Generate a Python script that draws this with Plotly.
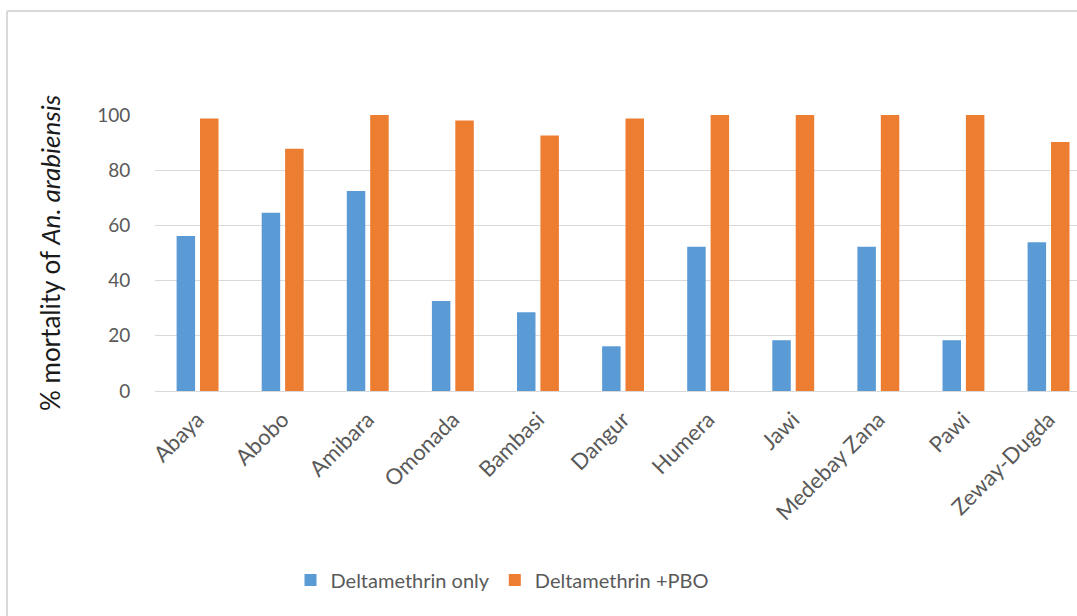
import plotly.graph_objects as go

# Study sites and % mortality for each exposure
sites = ["Abaya", "Abobo", "Amibara", "Omonada", "Bambasi", "Dangur",
         "Humera", "Jawi", "Medebay Zana", "Pawi", "Zeway-Dugda"]
delta_only = [56.2, 64.6, 72.5, 32.6, 28.5, 16.2, 52.3, 18.4, 52.3, 18.4, 53.9]
delta_pbo = [98.7, 87.8, 100, 98.0, 92.6, 98.7, 100, 100, 100, 100, 90.2]
y_ticks = [0, 20, 40, 60, 80, 100]

W, H = 1077, 616
L, R, T, B = 155, 0, 115, 225
plot_w = W - L - R
plot_h = H - T - B

FONT = "Lato, 'Open Sans', sans-serif"
GREY = "#595959"

fig = go.Figure()
fig.add_trace(go.Bar(x=list(range(len(sites))), y=delta_only, name="Deltamethrin only",
                     marker=dict(color="#5b9bd5", line=dict(width=0))))
fig.add_trace(go.Bar(x=list(range(len(sites))), y=delta_pbo, name="Deltamethrin +PBO",
                     marker=dict(color="#ed7d31", line=dict(width=0))))

cat_px = 85.1
fig.update_layout(
    width=W, height=H,
    margin=dict(l=L, r=R, t=T, b=B, pad=0),
    paper_bgcolor="white", plot_bgcolor="white",
    barmode="group", bargap=0.45, bargroupgap=0.21,
    font=dict(family=FONT, color=GREY),
    showlegend=True,
    legend=dict(orientation="h", x=(502 - L) / plot_w, xanchor="center",
                y=(T + plot_h - 580) / plot_h, yanchor="middle",
                font=dict(size=20, color=GREY), itemwidth=30,
                traceorder="normal", bgcolor="rgba(0,0,0,0)"),
    xaxis=dict(range=[-0.5, -0.5 + plot_w / cat_px], tickmode="array",
               tickvals=list(range(len(sites))), ticktext=sites, tickangle=-45,
               tickfont=dict(size=22, color=GREY), showgrid=False, zeroline=False,
               showline=False, ticks="outside", ticklen=6, tickcolor="rgba(0,0,0,0)"),
    yaxis=dict(range=[0, 100], tickvals=y_ticks, tickfont=dict(size=19, color=GREY),
               showgrid=True, gridcolor="#d9d9d9", gridwidth=1.3, zeroline=True,
               zerolinecolor="#d9d9d9", zerolinewidth=1.3, showline=False,
               ticks="outside", ticklen=20, tickcolor="rgba(0,0,0,0)"),
)

# Axis title with the species name in italics
fig.add_annotation(text="% mortality of <i>An. arabiensis</i>", textangle=-90,
                   xref="paper", yref="paper", x=(50 - L) / plot_w, y=0.5,
                   xanchor="center", yanchor="middle", showarrow=False,
                   font=dict(family=FONT, size=26, color="#1a1a1a"))

# Chart frame (left and top edges)
fx = (7 - L) / plot_w
fy = (T + plot_h - 11) / plot_h
fig.add_shape(type="line", xref="paper", yref="paper", x0=fx, x1=fx, y0=fy, y1=-2,
              line=dict(color="#d9d9d9", width=2))
fig.add_shape(type="line", xref="paper", yref="paper", x0=fx, x1=1.2, y0=fy, y1=fy,
              line=dict(color="#d9d9d9", width=2))

fig.write_html("out.html")
